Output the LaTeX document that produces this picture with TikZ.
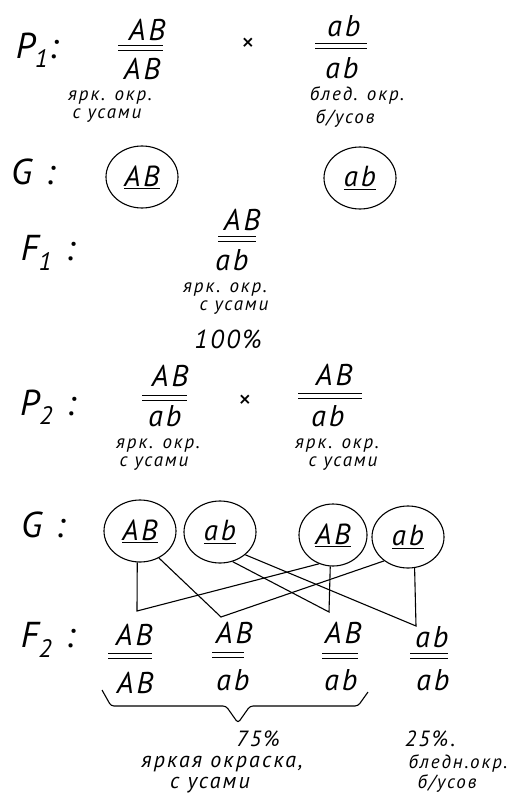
\documentclass[tikz,border=0pt]{standalone}
\usepackage{fontspec}
\setmainfont{PT Sans}[LetterSpace=10]
\usetikzlibrary{positioning,shapes.geometric}

\begin{document}
\begin{tikzpicture}[x=1pt,y=-1pt,line width=1.1pt,
 every node/.style={inner sep=0pt,font=\itshape},
 hd/.style={font=\itshape\fontsize{36}{38}\selectfont},
 gt/.style={font=\itshape\fontsize{30}{32}\selectfont},
 tl/.style={font=\itshape\fontsize{19}{21}\selectfont},
 bt/.style={font=\itshape\fontsize{22}{24}\selectfont},
 cr/.style={font=\fontsize{26}{28}\selectfont},
 gam/.style={draw,ellipse,minimum width=72pt,minimum height=62pt,font=\itshape\fontsize{29}{31}\selectfont},
 bar/.style={double,double distance=4.5pt,line width=1.1pt}]
\useasboundingbox (0,0) rectangle (522,802);
% P1
\node[hd] (lp1) at (37,50) {P\textsubscript{1}:};
\node[gt] (p1a) at (147,30) {AB}; \node[gt] (p1b) at (142,69) {AB};
\draw[bar] (118,48) -- (163,48);
\node[tl] (p1c) at (110,98) {ярк. окр.}; \node[tl] (p1d) at (107,116) {с усами};
\node[cr] (x1) at (248,45) {×};
\node[gt] (p1e) at (344,26) {ab}; \node[gt] (p1f) at (342,68) {ab};
\draw[bar] (315,46) -- (367,46);
\node[tl] (p1g) at (357,96) {блед. окр.}; \node[tl] (p1h) at (345,119) {б/усов};
% G
\node[hd] (lg1) at (33,172) {G :};
\node[gam] (ga) at (142,177) {\underline{AB}};
\node[gam] (gb) at (360,178) {\underline{ab}};
% F1
\node[hd] (lf1) at (48,253) {F\textsubscript{1} :};
\node[gt] (f1a) at (242,220) {AB}; \node[gt] (f1b) at (232,260) {ab};
\draw[bar] (218,239) -- (256,239);
\node[tl] (f1c) at (225,290) {ярк. окр.}; \node[tl] (f1d) at (234,308) {с усами};
\node[bt,font=\itshape\fontsize{26}{28}\selectfont] (f1e) at (228,339) {100\%};
% P2
\node[hd] (lp2) at (48,407) {P\textsubscript{2} :};
\node[gt] (p2a) at (170,376) {AB}; \node[gt] (p2b) at (165,416) {ab};
\draw[bar] (142,398) -- (187,398);
\node[tl] (p2c) at (158,446) {ярк. окр.}; \node[tl] (p2d) at (154,464) {с усами};
\node[cr] (x2) at (245,402) {×};
\node[gt] (p2e) at (334,375) {AB}; \node[gt] (p2f) at (328,416) {ab};
\draw[bar] (298,396) -- (362,396);
\node[tl] (p2g) at (337,446) {ярк. окр.}; \node[tl] (p2h) at (343,464) {с усами};
% G
\node[hd] (lg2) at (43,525) {G :};
\node[gam] (g1) at (140,531) {\underline{AB}};
\node[gam] (g2) at (220,532) {\underline{ab}};
\node[gam,minimum width=68pt] (g3) at (333,535) {\underline{AB}};
\node[gam] (g4) at (408,537) {\underline{ab}};
\coordinate (j1) at (137,611); \coordinate (j2) at (221,617);
\coordinate (j3) at (329,612); \coordinate (j4) at (416,626);
\draw (g1.265) -- (j1) -- (g3.244);
\draw (g1.305) -- (j2) -- (g4.225);
\draw (g2.293) -- (j3) -- (g3.265);
\draw (g2.318) -- (j4) -- (g4.282);
% F2
\node[hd] (lf2) at (48,640) {F\textsubscript{2} :};
\node[gt] (fa1) at (134,635) {AB}; \node[gt] (fa2) at (135,683) {AB};
\draw[bar] (108,656) -- (152,656);
\node[gt] (fb1) at (234,633) {AB}; \node[gt] (fb2) at (233,680) {ab};
\draw[bar] (212,655) -- (244,655);
\node[gt] (fc1) at (343,633) {AB}; \node[gt] (fc2) at (341,680) {ab};
\draw[bar] (322,656) -- (358,656);
\node[gt] (fd1) at (432,637) {ab}; \node[gt] (fd2) at (433,680) {ab};
\draw[bar] (410,656) -- (448,656);
\draw[rounded corners=3pt] (102,690) -- (111,706) -- (226,706) -- (238,723) -- (250,706) -- (358,706) -- (368,692);
\node[bt] (r1) at (258,739) {75\%};
\node[bt] (r2) at (222,764) {яркая окраска,};
\node[bt] (r3) at (210,785) {с усами};
\node[bt] (r4) at (430,739) {25\%.};
\node[tl] (r5) at (458,764) {бледн.окр.};
\node[tl] (r6) at (447,784) {б/усов};
\end{tikzpicture}
\end{document}
